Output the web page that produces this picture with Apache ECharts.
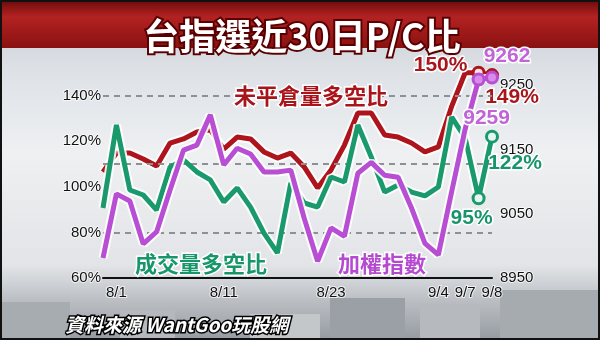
<!DOCTYPE html>
<html>
<head>
<meta charset="utf-8">
<script src="https://cdn.jsdelivr.net/npm/echarts@6/dist/echarts.min.js"></script>
<style>
html,body{margin:0;padding:0;background:#fff;}
#chart{width:600px;height:340px;}
</style>
</head>
<body>
<div id="chart"></div>
<script>
// 30 trading days
const categories = ['7/29','8/1','8/2','8/3','8/4','8/5','8/8','8/9','8/10','8/11','8/12','8/15','8/16','8/17','8/18','8/19','8/22','8/23','8/24','8/25','8/26','8/29','8/30','8/31','9/1','9/2','9/5','9/6','9/7','9/8'];
// tick labels as printed on the graphic
const xTickLabels = ['','8/1','','','','','','','','8/11','','','','','','','','8/23','','','','','','','','9/4','','9/7','','9/8'];
// 未平倉量多空比 (%)
const oiRatio = [106.5,114.8,114.8,112.2,109.1,119.2,121,124,125,116.5,121.8,121,115.3,112.6,114.8,108.7,99.5,107.4,118.3,132.4,132.4,122.7,121.8,119.2,115.3,117.5,135.4,150,150,149];
// 成交量多空比 (%)
const volRatio = [90.7,127.1,98.6,96.4,89.8,108.7,111.8,106.5,103,93.3,99.5,91.1,79.7,71,101.7,92.9,91.1,104.3,102.1,127.1,113.1,97.7,100.8,97.7,96,99.9,130.6,121.4,95,122];
// 加權指數
const taiex = [8981,9081,9070,9003,9022,9087,9149,9157,9204,9126,9152,9143,9115,9115,9118,9043,8976,9028,9015,9113,9130,9110,9107,9059,9004,8986,9085,9182,9259,9262];
// dashed reference lines (%)
const refLines = [140,110,80];
const leftTicks = [60,80,100,120,140];
const rightTicks = [8950,9050,9150,9250];

const RED = '#ad141b', GREEN = '#1a9a6c', PURPLE = '#b84ed4';
const endLabelOffsets = {
  red: [[-38,-8],[20,22]],
  green: [[-7,20],[23,27]],
  purple: [[8,39],[15,-21]]
};

function withMarkers(arr, color, fill, offsets, fmt, labelColor) {
  const n = arr.length;
  return arr.map((v, i) => {
    if (i < n - 2) return v;
    const k = i - (n - 2);
    return {
      value: v,
      symbol: 'circle',
      symbolSize: 11,
      itemStyle: { color: fill, borderColor: color, borderWidth: 3 },
      label: {
        show: true, position: 'inside', offset: offsets[k],
        formatter: fmt, color: labelColor,
        fontSize: 21, fontWeight: 'bold', fontFamily: 'Liberation Sans, Arial, sans-serif',
        textBorderColor: '#fff', textBorderWidth: 3
      }
    };
  });
}

const haloStyle = { width: 9, color: 'rgba(255,255,255,0.9)' };

const chart = echarts.init(document.getElementById('chart'), null, { renderer: 'canvas' });
const option = {
  animation: false,
  backgroundColor: 'transparent',
  grid: { left: 103, right: 108, top: 50, bottom: 62 },
  xAxis: {
    type: 'category', data: categories, boundaryGap: false,
    axisLine: { lineStyle: { color: '#111', width: 2 } },
    axisTick: { show: false },
    axisLabel: {
      interval: 0, margin: 7, color: '#111', fontSize: 15,
      fontFamily: 'Liberation Sans, Arial, sans-serif',
      formatter: (v, idx) => xTickLabels[idx],
      textBorderColor: 'rgba(255,255,255,0.7)', textBorderWidth: 2
    },
    splitLine: { show: false }
  },
  yAxis: [{
    type: 'value', min: 60, max: 160, interval: 20,
    axisLine: { show: false }, axisTick: { show: false }, splitLine: { show: false },
    axisLabel: {
      margin: 2, color: '#111', fontSize: 15,
      fontFamily: 'Liberation Sans, Arial, sans-serif',
      formatter: v => leftTicks.indexOf(v) >= 0 ? v + '%' : '',
      textBorderColor: 'rgba(255,255,255,0.7)', textBorderWidth: 2
    }
  }, {
    type: 'value', min: 8950, max: 9305, interval: 50,
    axisLine: { show: false }, axisTick: { show: false }, splitLine: { show: false },
    axisLabel: {
      margin: 8, color: '#111', fontSize: 15,
      fontFamily: 'Liberation Sans, Arial, sans-serif',
      formatter: v => rightTicks.indexOf(v) >= 0 ? String(v) : '',
      textBorderColor: 'rgba(255,255,255,0.7)', textBorderWidth: 2
    }
  }],
  series: [
    { type: 'line', name: 'oiHalo', data: oiRatio, yAxisIndex: 0, z: 2, symbol: 'none', silent: true,
      lineStyle: haloStyle,
      markLine: {
        silent: true, symbol: 'none', label: { show: false },
        lineStyle: { color: '#8d9196', type: [6, 5], width: 2 },
        data: refLines.map(v => ({ yAxis: v }))
      }
    },
    { type: 'line', name: '未平倉量多空比', yAxisIndex: 0, z: 3, symbol: 'none',
      data: withMarkers(oiRatio, RED, '#fbe3e3', endLabelOffsets.red, p => Math.round(p.value) + '%', '#a8161c'),
      lineStyle: { width: 5, color: RED }, itemStyle: { color: RED } },
    { type: 'line', name: 'volHalo', data: volRatio, yAxisIndex: 0, z: 4, symbol: 'none', silent: true,
      lineStyle: haloStyle },
    { type: 'line', name: '成交量多空比', yAxisIndex: 0, z: 5, symbol: 'none',
      data: withMarkers(volRatio, GREEN, '#e6f5ee', endLabelOffsets.green, p => Math.round(p.value) + '%', '#17946a'),
      lineStyle: { width: 5, color: GREEN }, itemStyle: { color: GREEN } },
    { type: 'line', name: 'taiexHalo', data: taiex, yAxisIndex: 1, z: 6, symbol: 'none', silent: true,
      lineStyle: haloStyle },
    { type: 'line', name: '加權指數', yAxisIndex: 1, z: 7, symbol: 'none',
      data: withMarkers(taiex, PURPLE, '#d98be8', endLabelOffsets.purple, p => String(p.value), '#c064d8'),
      lineStyle: { width: 5, color: PURPLE }, itemStyle: { color: PURPLE } }
  ],
  graphic: [
    { type: 'rect', z: -100, silent: true, shape: { x: 0, y: 0, width: 600, height: 340 },
      style: { fill: new echarts.graphic.LinearGradient(0, 0, 0, 1, [
        { offset: 0, color: '#c3c9d1' }, { offset: 0.2, color: '#dde1e6' },
        { offset: 0.45, color: '#eef0f2' }, { offset: 0.78, color: '#e2e4e7' },
        { offset: 0.88, color: '#bcc0c5' }, { offset: 1, color: '#969ba1' }]) } },
    { type: 'rect', z: -99, silent: true, shape: { x: 0, y: 302, width: 70, height: 38 }, style: { fill: '#a7acb1' } },
    { type: 'rect', z: -99, silent: true, shape: { x: 120, y: 310, width: 55, height: 30 }, style: { fill: '#b5b9bd' } },
    { type: 'rect', z: -99, silent: true, shape: { x: 250, y: 314, width: 70, height: 26 }, style: { fill: '#c4c7ca' } },
    { type: 'rect', z: -99, silent: true, shape: { x: 330, y: 298, width: 75, height: 42 }, style: { fill: '#9ba0a6' } },
    { type: 'rect', z: -99, silent: true, shape: { x: 420, y: 304, width: 60, height: 36 }, style: { fill: '#b6babe' } },
    { type: 'rect', z: -99, silent: true, shape: { x: 500, y: 290, width: 100, height: 50 }, style: { fill: '#a6abb0' } },
    { type: 'rect', z: -98, silent: true, shape: { x: 0, y: 0, width: 600, height: 48 },
      style: { fill: new echarts.graphic.LinearGradient(0, 0, 0, 1, [
        { offset: 0, color: '#6c0a0a' }, { offset: 0.35, color: '#b32222' }, { offset: 1, color: '#8a1111' }]) } },
    { type: 'rect', z: 200, silent: true, shape: { x: 1, y: 1, width: 598, height: 338 },
      style: { fill: 'none', stroke: '#111', lineWidth: 2 } },
    { type: 'text', z: 200, silent: true, x: 302, y: 36,
      style: { text: '台指選近30日P/C比', fill: '#fff', stroke: '#5a0000', lineWidth: 4,
        font: 'bold 36px "Noto Sans CJK TC", sans-serif', align: 'center', verticalAlign: 'middle' } },
    { type: 'text', z: 150, silent: true, x: 311, y: 96,
      style: { text: '未平倉量多空比', fill: '#a8141a', stroke: '#fff', lineWidth: 3,
        font: 'bold 22px "Noto Sans CJK TC", sans-serif', align: 'center', verticalAlign: 'middle' } },
    { type: 'text', z: 150, silent: true, x: 201, y: 264,
      style: { text: '成交量多空比', fill: '#17966a', stroke: '#fff', lineWidth: 3,
        font: 'bold 22px "Noto Sans CJK TC", sans-serif', align: 'center', verticalAlign: 'middle' } },
    { type: 'text', z: 150, silent: true, x: 382, y: 264,
      style: { text: '加權指數', fill: '#b54ad0', stroke: '#fff', lineWidth: 3,
        font: 'bold 22px "Noto Sans CJK TC", sans-serif', align: 'center', verticalAlign: 'middle' } },
    { type: 'text', z: 150, silent: true, x: 65, y: 325,
      style: { text: '資料來源 WantGoo玩股網', fill: '#fff', stroke: '#000', lineWidth: 3,
        font: 'italic bold 19px "Noto Sans CJK TC", sans-serif', align: 'left', verticalAlign: 'middle' } }
  ]
};
chart.setOption(option);
</script>
</body>
</html>
